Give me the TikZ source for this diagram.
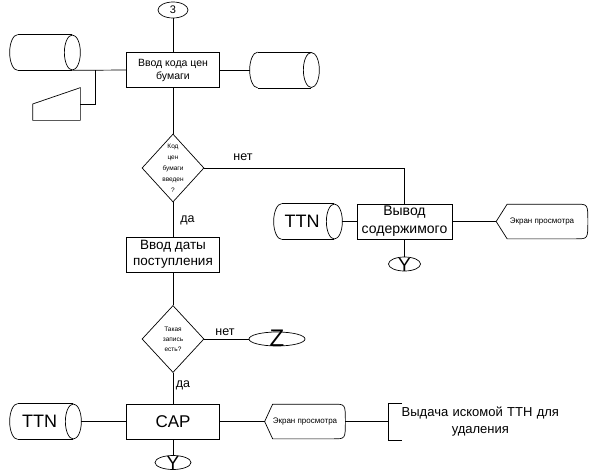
\documentclass[tikz,border=0pt]{standalone}
\usepackage{fontspec}
\setmainfont{Liberation Sans}
\usetikzlibrary{shapes.geometric}

\begin{document}
\begin{tikzpicture}[x=1pt,y=-1pt,line width=.7pt,
 proc/.style={draw,minimum width=93pt,minimum height=35pt,inner sep=1pt,align=center},
 decision/.style={draw,diamond,minimum width=62pt,minimum height=68pt,inner sep=0pt},
 dtext/.style={font=\fontsize{6.5}{11}\selectfont,align=center,inner sep=0pt},
 term/.style={draw,ellipse,minimum width=32pt,minimum height=14pt,inner sep=0pt},
 letter/.style={anchor=base,inner sep=0pt,font=\fontsize{19}{20}\selectfont},
 store/.style={minimum width=70pt,minimum height=35pt,inner sep=0pt},
 ttn/.style={xshift=-6pt,inner sep=0pt,font=\fontsize{18}{20}\selectfont},
 screen/.style={minimum height=34pt,inner sep=0pt,font=\fontsize{8}{9}\selectfont},
 lbl/.style={font=\fontsize{12.5}{14}\selectfont}]
\useasboundingbox (0,0) rectangle (589,474);

% entry and first input
\node[term,minimum width=30pt,minimum height=16pt,font=\fontsize{11}{12}\selectfont] (t3) at (173,10) {3};
\node[proc,font=\fontsize{10.5}{13}\selectfont] (inp) at (173,70) {Ввод кода цен\\бумаги};
\node[store] (cylA) at (45,52.5) {};
\node[store,minimum width=69pt] (cylB) at (284.5,70) {};
\node[minimum width=47pt,minimum height=32pt,inner sep=0pt] (kbd) at (56.5,104) {};
\draw (kbd.west) -- (kbd.north east) -- (kbd.south east) -- (kbd.south west) -- cycle;
\coordinate (j1) at (95,70);
\draw (t3) -- (inp);
\draw (inp.west) -- ([xshift=-8pt]cylA.south east);
\draw (kbd.east) -| (j1);
\draw (inp.east) -- (cylB.west);

% first check
\node[decision,label={[dtext]center:{Код\\цен\\бумаги\\введен\\?}}] (d1) at (173,168) {};
\draw (inp) -- (d1);
\node[lbl] (no1) at (243,157) {нет};
\node[proc,minimum width=95pt,font=\fontsize{14}{18}\selectfont] (out) at (404.5,221.5) {Вывод\\содержимого};
\draw (d1.east) -| (out.north);
\node[store,minimum width=68pt,label={[ttn]center:TTN}] (cylC) at (308,221.5) {};
\draw (cylC.east) -- (out.west);
\node[screen,minimum width=91pt] (scrA) at (542,221.5) {Экран просмотра};
\draw (out.east) -- (scrA.west);
\node[term,label={[letter]south:Y}] (y1) at (404.5,264) {};
\draw (out) -- (y1);

% second check
\node[lbl] (yes1) at (187.5,220) {да};
\node[proc,font=\fontsize{13.5}{16}\selectfont] (date) at (173,254.5) {Ввод даты\\поступления};
\draw (d1) -- (date);
\node[decision,minimum height=67pt,label={[dtext,font=\fontsize{6.5}{10}\selectfont]center:{Такая\\запись\\есть?}}] (d2) at (173,339) {};
\draw (date) -- (d2);
\node[lbl] (no2) at (225,332) {нет};
\node[term,minimum width=56pt,label={[letter,font=\fontsize{24}{24}\selectfont]south:Z}] (z) at (277,339) {};
\draw (d2.east) -- (z.west);

% search result
\node[lbl] (yes2) at (183,385) {да};
\node[proc,font=\fontsize{17}{20}\selectfont] (cap) at (173,421.5) {CAP};
\draw (d2) -- (cap);
\node[store,minimum width=71pt,label={[ttn]center:TTN}] (cylD) at (45.5,421.5) {};
\draw (cylD.east) -- (cap.west);
\node[screen,minimum width=80pt] (scrB) at (305,421.5) {Экран просмотра};
\draw (cap.east) -- (scrB.west);
\node[anchor=west,inner xsep=12pt,text width=160pt,minimum height=34pt,align=center,
 font=\fontsize{13}{17}\selectfont] (res) at (388,421.5) {Выдача искомой ТТН для\\удаления};
\draw (scrB.east) -- (res.west);
\draw ([xshift=14pt]res.north west) -- (res.north west) -- (res.south west) -- ([xshift=14pt]res.south west);
\node[term,minimum width=36pt,label={[letter]south:Y}] (y2) at (173,462.5) {};
\draw (cap) -- (y2);

% display outlines
\foreach \s/\d in {scrA/11pt,scrB/8pt}
 \draw (\s.west) -- ([xshift=\d]\s.north west) -- ([xshift=-12pt]\s.north east)
  .. controls (\s.north east) .. (\s.east)
  .. controls (\s.south east) .. ([xshift=-12pt]\s.south east)
  -- ([xshift=\d]\s.south west) -- cycle;

% storage outlines: round back end, open ellipse in front
\foreach \c in {cylA,cylB,cylC,cylD}{
 \draw ([xshift=8pt]\c.north west) -- ([xshift=-8pt]\c.north east);
 \draw ([xshift=8pt]\c.south west) -- ([xshift=-8pt]\c.south east);
 \draw ([xshift=8pt]\c.north west) .. controls ([xshift=3.6pt]\c.north west) and ([yshift=9.7pt]\c.west) .. (\c.west)
  .. controls ([yshift=-9.7pt]\c.west) and ([xshift=3.6pt]\c.south west) .. ([xshift=8pt]\c.south west);
 \draw ([xshift=-8pt]\c.east) ellipse [x radius=8pt,y radius=17.5pt];
}
\end{tikzpicture}
\end{document}
